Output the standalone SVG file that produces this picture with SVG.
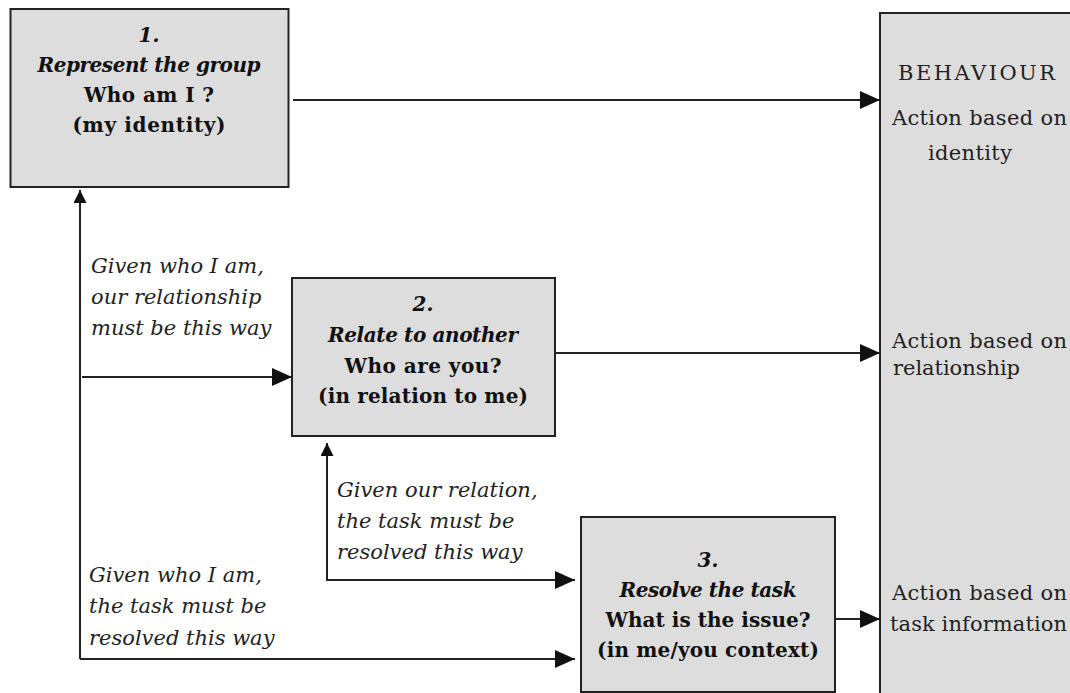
<svg xmlns="http://www.w3.org/2000/svg" width="1070" height="693" viewBox="0 0 1070 693">
  <defs>
    <marker id="big" markerUnits="userSpaceOnUse" markerWidth="20" markerHeight="18" refX="20" refY="9" orient="auto">
      <path d="M0,0 L20,9 L0,18 z" fill="#111"/>
    </marker>
    <marker id="small" markerUnits="userSpaceOnUse" markerWidth="13" markerHeight="13" refX="13" refY="6.5" orient="auto">
      <path d="M0,0 L13,6.5 L0,13 z" fill="#111"/>
    </marker>
    <style>
      .box { fill: #dddddd; stroke: #222; stroke-width: 2; }
      .line { fill: none; stroke: #222; stroke-width: 2; }
      .t { font-family: "DejaVu Serif", "Liberation Serif", serif; font-size: 20px; font-weight: bold; fill: #111; text-anchor: middle; }
      .ti { font-style: italic; }
      .lab { font-family: "DejaVu Serif", "Liberation Serif", serif; font-size: 21px; font-style: italic; fill: #222; }
      .beh { font-family: "DejaVu Serif", "Liberation Serif", serif; font-size: 21px; fill: #222; }
    </style>
  </defs>

  <g id="behaviour">
    <rect class="box" x="880" y="13" width="220" height="700"/>
    <text class="beh" x="898" y="80" textLength="157">BEHAVIOUR</text>
    <text class="beh" x="892" y="125" textLength="175">Action based on</text>
    <text class="beh" x="928" y="160" textLength="84">identity</text>
    <text class="beh" x="892" y="348" textLength="175">Action based on</text>
    <text class="beh" x="893" y="375" textLength="127">relationship</text>
    <text class="beh" x="892" y="600" textLength="175">Action based on</text>
    <text class="beh" x="890" y="631" textLength="177">task information</text>
  </g>

  <g id="node1">
    <rect class="box" x="10.5" y="9" width="278" height="178"/>
    <text class="t ti" x="149" y="42">1.</text>
    <text class="t ti" x="149" y="72" textLength="223">Represent the group</text>
    <text class="t" x="149" y="102" textLength="130">Who am I ?</text>
    <text class="t" x="149" y="132" textLength="153">(my identity)</text>
  </g>

  <g id="node2">
    <rect class="box" x="292" y="278" width="263" height="158"/>
    <text class="t ti" x="423" y="311">2.</text>
    <text class="t ti" x="423" y="342" textLength="190">Relate to another</text>
    <text class="t" x="423" y="373" textLength="157">Who are you?</text>
    <text class="t" x="423" y="403" textLength="210">(in relation to me)</text>
  </g>

  <g id="node3">
    <rect class="box" x="581" y="517" width="254" height="175"/>
    <text class="t ti" x="708" y="567">3.</text>
    <text class="t ti" x="708" y="597" textLength="177">Resolve the task</text>
    <text class="t" x="708" y="627" textLength="205">What is the issue?</text>
    <text class="t" x="708" y="657" textLength="222">(in me/you context)</text>
  </g>

  <g id="connectors">
    <path class="line" d="M293,100 H880" marker-end="url(#big)"/>
    <path class="line" d="M555,353 H880" marker-end="url(#big)"/>
    <path class="line" d="M835,619 H880" marker-end="url(#big)"/>
    <path class="line" d="M80,659 V190" marker-end="url(#small)"/>
    <path class="line" d="M82,377 H292" marker-end="url(#big)"/>
    <path class="line" d="M80,659 H575" marker-end="url(#big)"/>
    <path class="line" d="M575,580 H327 V443" marker-end="url(#small)"/>
    <path class="line" d="M327,580 H575" marker-end="url(#big)"/>
  </g>

  <g id="labels">
    <text class="lab" x="91" y="273">Given who I am,</text>
    <text class="lab" x="91" y="304">our relationship</text>
    <text class="lab" x="91" y="335">must be this way</text>
    <text class="lab" x="337" y="497">Given our relation,</text>
    <text class="lab" x="337" y="528">the task must be</text>
    <text class="lab" x="337" y="559">resolved this way</text>
    <text class="lab" x="89" y="582">Given who I am,</text>
    <text class="lab" x="89" y="613">the task must be</text>
    <text class="lab" x="89" y="645">resolved this way</text>
  </g>
</svg>
